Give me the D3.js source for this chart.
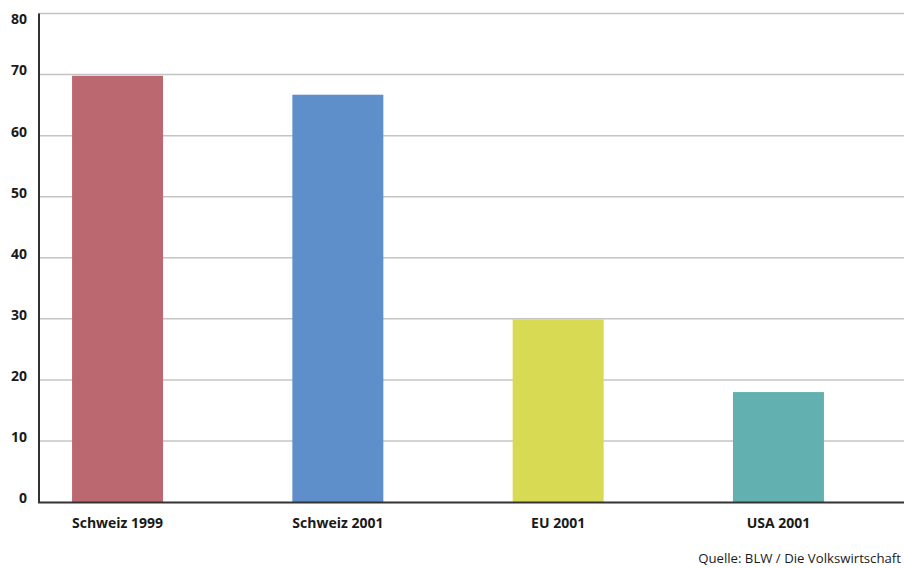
<!DOCTYPE html>
<html><head><meta charset="utf-8">
<script src="https://cdn.jsdelivr.net/npm/d3@7"></script>
<style>body{margin:0;background:#fff}svg{display:block}</style>
</head><body>
<svg id="c" width="904" height="568"></svg>
<script>
const categories = ["Schweiz 1999", "Schweiz 2001", "EU 2001", "USA 2001"];
const values = [69.8, 66.7, 29.9, 18.0];
const colors = ["#bb6870", "#5e8fcb", "#d8da53", "#62b0b0"];
const yTicks = [0, 10, 20, 30, 40, 50, 60, 70, 80];
const source = "Quelle: BLW / Die Volkswirtschaft";

const svg = d3.select("#c");
const x0 = 39, xEnd = 904, yTop = 13.5, yBot = 502;
const y = d3.scaleLinear().domain([0, 80]).range([yBot, yTop]);
const x = d3.scaleBand().domain(categories).range([x0, 857]).paddingInner(0.587).paddingOuter(0.15);

// gridlines
svg.append("g").selectAll("line").data(yTicks.filter(d => d > 0)).join("line")
  .attr("x1", x0).attr("x2", xEnd)
  .attr("y1", d => y(d)).attr("y2", d => y(d))
  .attr("stroke", "#c4c4c4").attr("stroke-width", 1.5);

// bars
svg.append("g").selectAll("rect").data(values).join("rect")
  .attr("x", (d, i) => x(categories[i]))
  .attr("width", x.bandwidth())
  .attr("y", d => y(d))
  .attr("height", d => yBot - y(d))
  .attr("fill", (d, i) => colors[i]);

// axes lines
svg.append("line").attr("x1", x0).attr("x2", x0).attr("y1", yTop).attr("y2", yBot + 1)
  .attr("stroke", "#333").attr("stroke-width", 2);
svg.append("line").attr("x1", x0 - 1).attr("x2", xEnd).attr("y1", yBot + 0.5).attr("y2", yBot + 0.5)
  .attr("stroke", "#333").attr("stroke-width", 2);

const font = "'Open Sans', sans-serif";
// y tick labels
svg.append("g").selectAll("text").data(yTicks).join("text")
  .attr("x", 27)
  .attr("y", d => Math.max(y(d) - 4, 19))
  .attr("dy", "0.35em")
  .attr("text-anchor", "end")
  .attr("font-family", font).attr("font-weight", "bold").attr("font-size", 14)
  .attr("fill", "#1a1a1a")
  .text(d => d);

// category labels
svg.append("g").selectAll("text").data(categories).join("text")
  .attr("x", d => x(d) + x.bandwidth() / 2)
  .attr("y", 528)
  .attr("text-anchor", "middle")
  .attr("font-family", font).attr("font-weight", "bold").attr("font-size", 14)
  .attr("fill", "#1a1a1a")
  .text(d => d);

svg.append("text").attr("x", 901).attr("y", 563)
  .attr("text-anchor", "end")
  .attr("font-family", font).attr("font-size", 13.2).attr("fill", "#1a1a1a")
  .text(source);
</script>
</body></html>
